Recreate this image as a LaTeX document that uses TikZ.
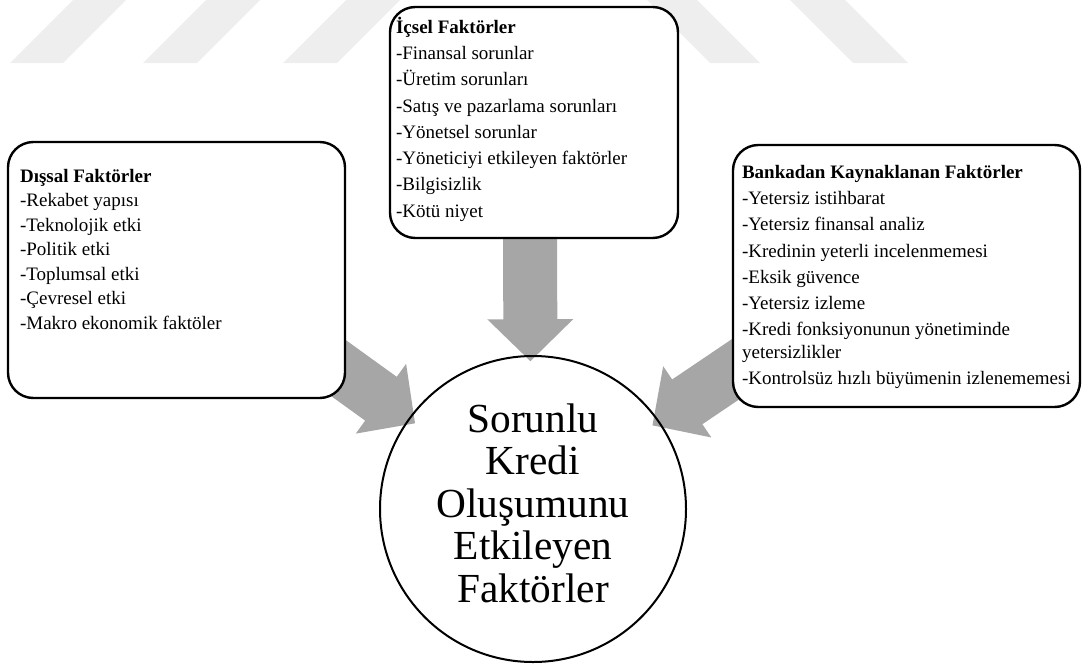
\documentclass[tikz,border=0pt]{standalone}
\usepackage{fontspec}
\setmainfont{Liberation Serif}
\usetikzlibrary{calc,backgrounds}
\definecolor{arrowgray}{RGB}{166,166,166}
\definecolor{bandgray}{RGB}{238,238,238}

% block arrow from #1 to #2 (stem 54px, head 86px x 42px)
\newcommand{\blockarr}[2]{%
  \coordinate (hb) at ($(#2)!31.5pt!(#1)$);
  \fill[arrowgray] ($(#1)!20.25pt!90:(#2)$) -- ($(hb)!20.25pt!90:(#2)$) -- ($(hb)!32.25pt!90:(#2)$)
    -- (#2) -- ($(hb)!32.25pt!-90:(#2)$) -- ($(hb)!20.25pt!-90:(#2)$) -- ($(#1)!20.25pt!-90:(#2)$) -- cycle;
}

\begin{document}
\begin{tikzpicture}[x=0.75pt,y=0.75pt,yscale=-1,xscale=1,
  fbox/.style={draw, line width=1.8pt, rounded corners=19pt, fill=white, inner sep=0pt},
  ftext/.style={anchor=north west, inner sep=0pt, align=left, font=\fontsize{14.25}{19.7}\selectfont},
  band/.style={fill=bandgray}]
\useasboundingbox (0,0) rectangle (1085,664);

%Shape: Rounded Rect [id:dis]
\node[fbox, minimum width=252.75pt, minimum height=192pt] (dis) at (176.5,270) {};
%Shape: Rounded Rect [id:ic]
\node[fbox, minimum width=216pt, minimum height=173.25pt] (ic) at (534,122.5) {};
%Shape: Rounded Rect [id:ban]
\node[fbox, minimum width=260.25pt, minimum height=196.5pt] (ban) at (906.5,276) {};
%Shape: Circle [id:circ]
\node[draw, circle, line width=1.5pt, minimum size=229.5pt, inner sep=0pt] (circ) at (533,509) {};

% Text Node
\node[ftext, font=\fontsize{14.25}{18.4}\selectfont] (distxt) at ($(dis.north west)+(13,28)$)
  {\textbf{Dışsal Faktörler}\\-Rekabet yapısı\\-Teknolojik etki\\-Politik etki\\-Toplumsal etki\\-Çevresel etki\\-Makro ekonomik faktöler};
% Text Node
\node[ftext] (ictxt) at ($(ic.north west)+(7,11)$)
  {\textbf{İçsel Faktörler}\\-Finansal sorunlar\\-Üretim sorunları\\-Satış ve pazarlama sorunları\\-Yönetsel sorunlar\\-Yöneticiyi etkileyen faktörler\\-Bilgisizlik\\-Kötü niyet};
% Text Node
\node[ftext] (bantxt) at ($(ban.north west)+(10,21)$)
  {\textbf{Bankadan Kaynaklanan Faktörler}\\-Yetersiz istihbarat\\-Yetersiz finansal analiz\\-Kredinin yeterli incelenmemesi\\-Eksik güvence\\-Yetersiz izleme\\-Kredi fonksiyonunun yönetiminde\\[-3pt]yetersizlikler\\-Kontrolsüz hızlı büyümenin izlenememesi};
% Text Node
\node[inner sep=0pt, align=center, font=\fontsize{31}{31.9}\selectfont] (ctxt) at ($(circ.center)+(0,-6)$)
  {Sorunlu\\Kredi\\Oluşumunu\\Etkileyen\\Faktörler};

\begin{scope}[on background layer]
%Shape: Bands
\fill[band] (10,63) -- (63,63) -- (126,0) -- (73,0) -- cycle;
\fill[band] (143,63) -- (197,63) -- (260,0) -- (206,0) -- cycle;
\fill[band] (283,63) -- (337,63) -- (400,0) -- (346,0) -- cycle;
\fill[band] (647,0) -- (697,0) -- (760,63) -- (710,63) -- cycle;
\fill[band] (790,0) -- (845,0) -- (908,63) -- (853,63) -- cycle;
%Block Arrows
\coordinate (icstart) at ($(ic.south)+(-4,-20)$);
\coordinate (ictip) at ($(circ.center)!0.96!(circ.91)$);
\blockarr{icstart}{ictip}
\coordinate (disstart) at ($(dis.south east)+(-45,-58)$);
\coordinate (distip) at ($(circ.center)!0.947!(circ.144)$);
\blockarr{disstart}{distip}
\coordinate (banstart) at ($(ban.south west)+(26,-54)$);
\coordinate (bantip) at ($(circ.center)!0.947!(circ.35)$);
\blockarr{banstart}{bantip}
\end{scope}

\end{tikzpicture}
\end{document}
